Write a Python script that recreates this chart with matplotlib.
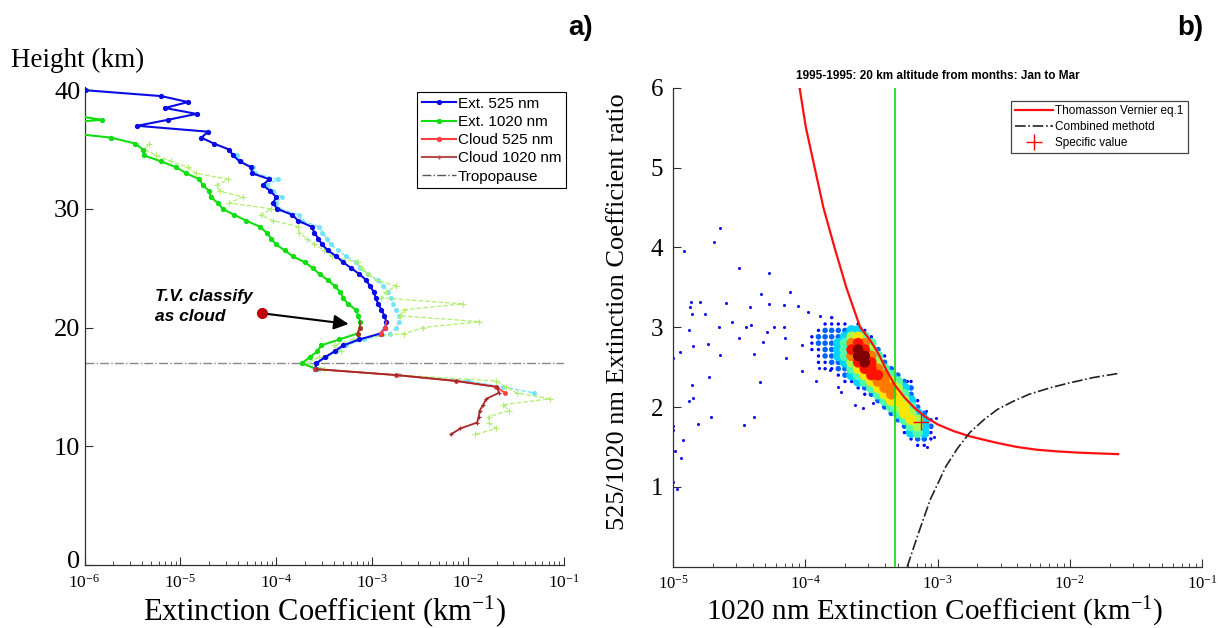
import matplotlib
matplotlib.use("Agg")
import matplotlib.pyplot as plt
import matplotlib.transforms as mtransforms
import numpy as np
from matplotlib.lines import Line2D
from matplotlib.ticker import LogLocator, LogFormatterMathtext, NullFormatter

plt.rcParams["font.family"] = ["Liberation Serif", "DejaVu Serif"]
plt.rcParams["mathtext.fontset"] = "custom"
plt.rcParams["mathtext.rm"] = "Liberation Serif"
plt.rcParams["mathtext.it"] = "Liberation Serif:italic"
plt.rcParams["mathtext.bf"] = "Liberation Serif:bold"

SANS = ["Liberation Sans", "DejaVu Sans"]

# ---------------- panel a) : extinction profiles, values are log10(km^-1) ----------------
alt_ext = [40.0, 39.5, 39.0, 38.5, 38.0, 37.5, 37.0, 36.5, 36.0, 35.5,
           35.0, 34.5, 34.0, 33.5, 33.0, 32.5, 32.0, 31.5, 31.0, 30.5,
           30.0, 29.5, 29.0, 28.5, 28.0, 27.5, 27.0, 26.5, 26.0, 25.5,
           25.0, 24.5, 24.0, 23.5, 23.0, 22.5, 22.0, 21.5, 21.0, 20.5,
           20.0, 19.5, 19.0, 18.5, 18.0, 17.5, 17.0, 16.5]
ext525_log = [-6.00, -5.20, -4.92, -5.16, -4.83, -5.13, -5.45, -4.71, -4.78, -4.65,
              -4.49, -4.45, -4.38, -4.26, -4.25, -4.07, -4.14, -4.06, -4.00, -4.03,
              -3.99, -3.83, -3.77, -3.63, -3.60, -3.56, -3.52, -3.46, -3.37, -3.30,
              -3.215, -3.13, -3.06, -3.02, -2.98, -2.96, -2.935, -2.90, -2.87, -2.85,
              -2.86, -2.91, -3.13, -3.30, -3.39, -3.49, -3.58, -3.59]
ext1020_log = [-5.98, -6.5, -6.5, -6.5, -6.2, -5.82, -6.6, -6.3, -5.72, -5.47,
               -5.39, -5.38, -5.20, -5.04, -4.94, -4.80, -4.765, -4.70, -4.68, -4.61,
               -4.556, -4.44, -4.31, -4.17, -4.10, -4.05, -4.00, -3.91, -3.825, -3.70,
               -3.615, -3.546, -3.46, -3.39, -3.33, -3.30, -3.25, -3.17, -3.14, -3.125,
               -3.125, -3.15, -3.34, -3.53, -3.57, -3.65, -3.73, -3.58]

alt_cyan = [34.5, 34.0, 33.5, 33.0, 32.5, 32.0, 31.5, 31.0, 30.5, 30.0,
            29.5, 29.0, 28.5, 28.0, 27.5, 27.0, 26.5, 26.0, 25.5, 25.0,
            24.5, 24.0, 23.5, 23.0, 22.5, 22.0, 21.5, 21.0, 20.5, 20.0,
            19.5, 19.0, 18.5, 18.0, 17.5, 17.0, 16.5, 16.0, 15.5, 15.0, 14.5]
cyan_log = [-4.41, -4.37, -4.24, -4.22, -3.98, -4.10, -4.03, -3.94, -4.00, -3.97,
            -3.76, -3.73, -3.55, -3.52, -3.47, -3.43, -3.35, -3.27, -3.17, -3.12,
            -3.04, -2.94, -2.88, -2.83, -2.80, -2.78, -2.745, -2.72, -2.72, -2.745,
            -2.815, -3.08, -3.27, -3.37, -3.48, -3.57, -3.55, -2.72, -2.00, -1.63, -1.31]

alt_lime = [35.5, 35.0, 34.5, 34.0, 33.5, 33.0, 32.5, 32.0, 31.5, 31.0,
            30.5, 30.0, 29.5, 29.0, 28.5, 28.0, 27.5, 27.0, 26.5, 26.0,
            25.5, 25.0, 24.5, 24.0, 23.5, 23.0, 22.5, 22.0, 21.5, 21.0,
            20.5, 20.0, 19.5, 19.0, 18.5, 18.0, 17.5, 17.0, 16.5, 16.0,
            15.5, 15.0, 14.5, 14.0, 13.5, 13.0, 12.5, 12.0, 11.5, 11.0]
lime_log = [-5.33, -5.37, -5.25, -5.10, -4.92, -4.84, -4.50, -4.62, -4.59, -4.35,
            -4.49, -4.05, -4.16, -4.03, -3.77, -3.76, -3.68, -3.60, -3.50, -3.42,
            -3.15, -3.10, -3.04, -2.95, -2.75, -2.85, -2.90, -2.05, -2.66, -2.71,
            -1.88, -2.47, -2.66, -3.20, -3.40, -3.32, -3.55, -3.68, -3.50, -2.72,
            -1.70, -1.60, -1.49, -1.14, -1.63, -1.57, -1.78, -1.78, -1.70, -1.92]

alt_cloud_upper = [20.5, 20.0, 19.5]
cloud525_upper_log = [-2.85, -2.86, -2.91]
cloud1020_upper_log = [-3.125, -3.125, -3.15]
alt_cloud525_lower = [16.5, 16.0, 15.5, 15.0, 14.5]
cloud525_lower_log = [-3.59, -2.75, -2.12, -1.70, -1.613]
alt_cloud1020_lower = [16.5, 16.0, 15.5, 15.0, 14.5, 14.0, 13.5, 13.0, 12.5, 12.0, 11.5, 11.0]
cloud1020_lower_log = [-3.58, -2.745, -2.118, -1.690, -1.676, -1.805, -1.839, -1.875,
                       -1.885, -1.902, -2.076, -2.177]
tropopause_km = 17.0

# ---------------- panel b) : ratio vs 1020 nm extinction ----------------
tv_log = [-4.043, -3.995, -3.929, -3.863, -3.779, -3.69, -3.585, -3.51, -3.444, -3.385,
          -3.325, -3.25, -3.175, -3.09, -2.996, -2.88, -2.762, -2.65, -2.547, -2.40,
          -2.248, -2.10, -1.948, -1.80, -1.634]
tv_ratio = [6.0, 5.5, 5.0, 4.5, 4.0, 3.5, 3.0, 2.84, 2.66, 2.46,
            2.28, 2.12, 1.99, 1.875, 1.78, 1.70, 1.636, 1.59, 1.55, 1.50,
            1.465, 1.445, 1.43, 1.42, 1.41]
comb_log = [-3.229, -3.144, -3.055, -2.935, -2.85, -2.756, -2.65, -2.547, -2.43, -2.307,
            -2.15, -2.008, -1.82, -1.634]
comb_ratio = [0.0, 0.42, 0.84, 1.26, 1.48, 1.68, 1.84, 1.97, 2.07, 2.16,
              2.24, 2.30, 2.37, 2.42]
threshold_log = -3.325
specific_log = -3.121
specific_ratio = 1.81

outlier_log = [-4.641, -4.692, -4.916, -4.503, -4.276, -4.114, -4.333, -4.865, -4.797, -4.599,
               -4.871, -4.162, -4.055, -4.414, -4.856, -4.758, -4.276, -3.98, -3.89, -4.557,
               -4.653, -4.45, -4.41, -4.234, -4.88, -4.847, -4.737, -4.503, -4.288, -4.318,
               -4.162, -4.153, -4.028, -4.946, -5.0, -4.647, -4.147, -4.387, -3.893, -3.81,
               -4.022, -3.917, -4.342, -4.856, -3.75, -3.729, -4.731, -4.88, -4.85, -4.716,
               -4.387, -4.812, -4.461, -5.0, -5.0, -4.925, -4.985, -4.94, -5.0, -4.97,
               -3.624, -3.564, -3.489, -3.229, -3.085, -3.01, -3.05, -3.03, -3.08]
outlier_ratio = [4.245, 4.067, 3.95, 3.74, 3.68, 3.447, 3.414, 3.31, 3.31, 3.30,
                 3.25, 3.28, 3.27, 3.25, 3.16, 3.16, 3.29, 3.19, 3.14, 3.06,
                 3.0, 3.0, 3.03, 3.0, 2.96, 2.77, 2.79, 2.86, 2.94, 2.81,
                 3.0, 2.87, 2.78, 2.69, 2.62, 2.65, 2.62, 2.66, 2.49, 2.47,
                 2.45, 2.32, 2.31, 2.28, 2.25, 2.19, 2.37, 2.07, 2.11, 1.87,
                 1.88, 1.79, 1.77, 1.76, 1.71, 1.59, 1.45, 1.36, 1.06, 0.97,
                 2.02, 1.99, 2.05, 2.32, 1.95, 1.86, 1.75, 1.62, 1.50]

# dense core: point density level (0 none .. 9 max) on a grid of log10(ext) x ratio
core_log = [-3.95, -3.90, -3.85, -3.80, -3.75, -3.70, -3.65, -3.60, -3.55, -3.50,
            -3.45, -3.40, -3.35, -3.30, -3.25, -3.20, -3.15, -3.10, -3.05]
core_ratio = [3.12, 3.04, 2.96, 2.88, 2.80, 2.72, 2.64, 2.56, 2.48, 2.40, 2.32,
              2.24, 2.16, 2.08, 2.00, 1.92, 1.84, 1.76, 1.68, 1.60, 1.52]
core_level = [
    [0, 0, 0, 1, 0, 0, 0, 0, 0, 0, 0, 0, 0, 0, 0, 0, 0, 0, 0],
    [0, 0, 1, 1, 1, 1, 0, 1, 0, 0, 0, 0, 0, 0, 0, 0, 0, 0, 0],
    [0, 1, 2, 2, 2, 2, 3, 3, 1, 0, 0, 0, 0, 0, 0, 0, 0, 0, 0],
    [1, 2, 2, 2, 2, 3, 5, 6, 4, 1, 0, 0, 0, 0, 0, 0, 0, 0, 0],
    [1, 2, 2, 2, 3, 4, 7, 8, 7, 4, 0, 0, 0, 0, 0, 0, 0, 0, 0],
    [1, 1, 2, 2, 3, 4, 8, 9, 8, 5, 2, 0, 0, 0, 0, 0, 0, 0, 0],
    [0, 1, 2, 2, 3, 4, 7, 9, 9, 7, 4, 1, 0, 0, 0, 0, 0, 0, 0],
    [0, 1, 1, 2, 2, 3, 5, 8, 9, 8, 5, 2, 0, 0, 0, 0, 0, 0, 0],
    [0, 0, 1, 1, 2, 2, 4, 6, 8, 8, 7, 4, 2, 0, 0, 0, 0, 0, 0],
    [0, 0, 0, 0, 1, 2, 3, 4, 6, 8, 8, 7, 4, 2, 0, 0, 0, 0, 0],
    [0, 0, 0, 0, 0, 1, 1, 3, 4, 6, 7, 7, 6, 4, 2, 1, 0, 0, 0],
    [0, 0, 0, 0, 0, 0, 0, 1, 2, 4, 6, 7, 7, 5, 3, 2, 0, 0, 0],
    [0, 0, 0, 0, 0, 0, 0, 0, 1, 2, 4, 6, 7, 6, 4, 2, 0, 0, 0],
    [0, 0, 0, 0, 0, 0, 0, 0, 0, 0, 2, 4, 6, 6, 5, 3, 1, 0, 0],
    [0, 0, 0, 0, 0, 0, 0, 0, 0, 0, 0, 2, 4, 5, 6, 4, 2, 0, 0],
    [0, 0, 0, 0, 0, 0, 0, 0, 0, 0, 0, 0, 2, 4, 6, 5, 3, 2, 0],
    [0, 0, 0, 0, 0, 0, 0, 0, 0, 0, 0, 0, 0, 2, 4, 6, 5, 3, 1],
    [0, 0, 0, 0, 0, 0, 0, 0, 0, 0, 0, 0, 0, 0, 2, 4, 5, 3, 2],
    [0, 0, 0, 0, 0, 0, 0, 0, 0, 0, 0, 0, 0, 0, 1, 3, 4, 3, 1],
    [0, 0, 0, 0, 0, 0, 0, 0, 0, 0, 0, 0, 0, 0, 0, 1, 2, 2, 1],
    [0, 0, 0, 0, 0, 0, 0, 0, 0, 0, 0, 0, 0, 0, 0, 0, 1, 1, 0],
]


def pw(vals):
    return np.power(10.0, np.asarray(vals, dtype=float))


def style_log_axis(ax, xsize):
    ax.set_xscale("log")
    ax.xaxis.set_major_locator(LogLocator(base=10, numticks=12))
    ax.xaxis.set_minor_locator(LogLocator(base=10, subs=np.arange(2, 10), numticks=12))
    ax.xaxis.set_major_formatter(LogFormatterMathtext())
    ax.xaxis.set_minor_formatter(NullFormatter())
    for side in ("top", "right"):
        ax.spines[side].set_visible(False)
    for side in ("left", "bottom"):
        ax.spines[side].set_color("#303030")
        ax.spines[side].set_linewidth(0.9)
    ax.tick_params(which="both", direction="in", top=False, right=False, color="#303030")
    ax.tick_params(which="major", length=6)
    ax.tick_params(which="minor", length=3)
    ax.tick_params(axis="x", labelsize=xsize, pad=6)


fig = plt.figure(figsize=(12.18, 6.28), dpi=100)

# ---------------- panel a ----------------
ax1 = fig.add_axes([84.5 / 1218, 1 - 565 / 628, 479 / 1218, 478.4 / 628])
style_log_axis(ax1, 12.5)
ax1.set_xlim(1e-6, 1e-1)
ax1.set_ylim(0, 40.3)
ax1.set_yticks([0, 10, 20, 30, 40])
ax1.tick_params(axis="y", labelsize=19, pad=3)
# the "0" label sits just above the 10^-6 label, as in the original
zero_lab = ax1.get_yticklabels()[0]
zero_lab.set_transform(zero_lab.get_transform()
                       + mtransforms.ScaledTranslation(0, 5 / 100, fig.dpi_scale_trans))

ax1.plot(pw(cyan_log), alt_cyan, "--", color="#6fe3ff", lw=0.9,
         marker="o", ms=2.5, zorder=2)
ax1.plot(pw(lime_log), alt_lime, "--", color="#b0ef70", lw=0.9,
         marker="+", ms=4, mew=0.8, zorder=2)
ax1.plot(pw(ext1020_log), alt_ext, "-", color="#11dd11", lw=1.5,
         marker="o", ms=2.8, zorder=3)
ax1.plot(pw(ext525_log), alt_ext, "-", color="#0a0ae6", lw=1.5,
         marker="o", ms=2.8, zorder=3)
ax1.plot(pw(cloud525_upper_log), alt_cloud_upper, "-", color="#ff4040", lw=1.3,
         marker="o", ms=2.5, markevery=[1, 2], zorder=4)
ax1.plot(pw(cloud1020_upper_log), alt_cloud_upper, "-", color="#b03030", lw=1.3,
         marker="o", ms=2.5, markevery=[1, 2], zorder=4)
ax1.plot(pw(cloud525_lower_log), alt_cloud525_lower, "-", color="#ff4040", lw=1.3,
         marker="o", ms=2.5, zorder=4)
ax1.plot(pw(cloud1020_lower_log), alt_cloud1020_lower, "-", color="#a52a2a", lw=1.3,
         marker="+", ms=3.5, mew=0.9, zorder=5)
ax1.axhline(tropopause_km, color="#888888", lw=1.0, ls="-.", zorder=1)

ax1.annotate("", xy=(10 ** -3.243, 20.3), xytext=(10 ** -4.142, 21.2),
             arrowprops=dict(arrowstyle="-|>", color="black", lw=1.5,
                             mutation_scale=22, shrinkA=0, shrinkB=0), zorder=6)
ax1.plot(10 ** -4.142, 21.2, "o", color="#c00000", ms=7, zorder=7)
ax1.text(10 ** -5.267, 23.25, "T.V. classify\nas cloud", family=SANS, fontsize=12.5,
         fontweight="bold", style="italic", ha="left", va="top", linespacing=1.4)

leg_handles = [
    Line2D([], [], color="#0a0ae6", lw=1.5, marker="o", ms=2.8),
    Line2D([], [], color="#11dd11", lw=1.5, marker="o", ms=2.8),
    Line2D([], [], color="#ff4040", lw=1.5, marker="o", ms=2.8),
    Line2D([], [], color="#b05050", lw=1.5, marker="+", ms=3.5),
    Line2D([], [], color="#555555", lw=1.0, ls="-."),
]
leg_labels = ["Ext. 525 nm", "Ext. 1020 nm", "Cloud 525 nm", "Cloud 1020 nm", "Tropopause"]
leg1 = ax1.legend(leg_handles, leg_labels, loc="upper right",
                  bbox_to_anchor=(566 / 1218, 1 - 92 / 628), bbox_transform=fig.transFigure,
                  prop={"family": SANS, "size": 11}, numpoints=1, fancybox=False,
                  edgecolor="black", framealpha=1, borderpad=0.3, labelspacing=0.28,
                  handlelength=2.2, handletextpad=0.15, borderaxespad=0)
leg1.get_frame().set_linewidth(0.8)

fig.text(11 / 1218, 1 - 60 / 628, "Height (km)", fontsize=19.5, ha="left", va="center")
fig.text(324.5 / 1218, 1 - 620 / 628, r"Extinction Coefficient (km$^{\mathregular{-1}}$)",
         fontsize=22, ha="center", va="baseline")
fig.text(568 / 1218, 1 - 28 / 628, "a)", family=SANS, fontsize=20, fontweight="bold",
         ha="left", va="center")

# ---------------- panel b ----------------
ax2 = fig.add_axes([673 / 1218, 1 - 566.7 / 628, 529 / 1218, 479 / 628])
style_log_axis(ax2, 12)
ax2.set_xlim(1e-5, 1e-1)
ax2.set_ylim(0, 6)
ax2.set_yticks([1, 2, 3, 4, 5, 6])
ax2.tick_params(axis="y", labelsize=18, pad=7)

ax2.scatter(pw(outlier_log), outlier_ratio, s=5, color="#1010e0", linewidths=0, zorder=2)

cx, cy, cl = [], [], []
for r, row in zip(core_ratio, core_level):
    for lx, lev in zip(core_log, row):
        if lev > 0:
            cx.append(10 ** lx)
            cy.append(r)
            cl.append(lev)
cx, cy, cl = np.array(cx), np.array(cy), np.array(cl)
order = np.argsort(cl, kind="stable")
cx, cy, cl = cx[order], cy[order], cl[order]
sizes = np.where(cl <= 1, 6, np.where(cl == 2, 16, 58))
ax2.scatter(cx, cy, c=cl, s=sizes, cmap="jet", vmin=0, vmax=9, linewidths=0, zorder=3)

ax2.axvline(10 ** threshold_log, color="#22dd22", lw=1.3, zorder=4)
ax2.plot(pw(tv_log), tv_ratio, "-", color="#ff1010", lw=1.6, zorder=5)
ax2.plot(pw(comb_log), comb_ratio, "-.", color="#222222", lw=1.2, zorder=5)
ax2.plot(10 ** specific_log, specific_ratio, "+", color="red", ms=11, mew=1.0, zorder=6)

ax2.set_title("1995-1995: 20 km altitude from months: Jan to Mar", family=SANS,
              fontsize=8.5, fontweight="bold", pad=6)

leg2_handles = [
    Line2D([], [], color="#ff1010", lw=1.6),
    Line2D([], [], color="#222222", lw=1.2, ls="-."),
    Line2D([], [], color="red", marker="+", ls="none", ms=11, mew=1.0),
]
leg2_labels = ["Thomasson Vernier eq.1", "Combined methotd", "Specific value"]
leg2 = ax2.legend(leg2_handles, leg2_labels, loc="upper right",
                  bbox_to_anchor=(1188 / 1218, 1 - 100.7 / 628), bbox_transform=fig.transFigure,
                  prop={"family": SANS, "size": 8.5}, numpoints=1, fancybox=False,
                  edgecolor="#444444", framealpha=1, borderpad=0.35, labelspacing=0.35,
                  handlelength=3.2, handletextpad=0.2, borderaxespad=0)
leg2.get_frame().set_linewidth(0.9)

fig.text(618 / 1218, 1 - 312 / 628, "525/1020 nm Extinction Coefficient ratio",
         fontsize=19, rotation=90, ha="center", va="center")
fig.text(934.5 / 1218, 1 - 620 / 628, r"1020 nm Extinction Coefficient (km$^{\mathregular{-1}}$)",
         fontsize=21, ha="center", va="baseline")
fig.text(1177 / 1218, 1 - 28 / 628, "b)", family=SANS, fontsize=20, fontweight="bold",
         ha="left", va="center")

fig.savefig("out.png", dpi=100)
plt.close(fig)
